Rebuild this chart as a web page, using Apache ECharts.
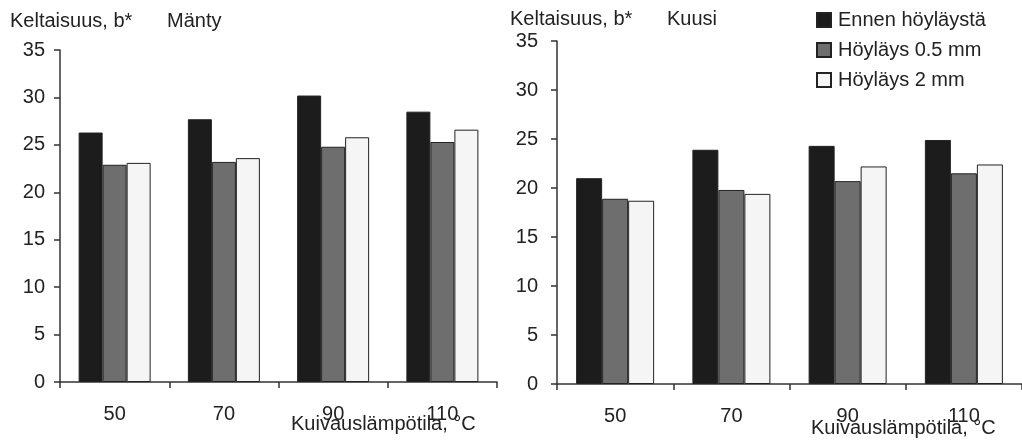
<!DOCTYPE html>
<html><head><meta charset="utf-8">
<script src="https://cdn.jsdelivr.net/npm/echarts@6/dist/echarts.min.js"></script>
<style>html,body{margin:0;padding:0;background:#fff}#c{width:1022px;height:442px}</style>
</head><body><div id="c"></div>
<script>
const categories = ['50', '70', '90', '110'];
const seriesNames = ['Ennen höyläystä', 'Höyläys 0.5 mm', 'Höyläys 2 mm'];
const mantyEnnen = [26.3, 27.7, 30.2, 28.5];
const mantyH05 = [22.9, 23.2, 24.8, 25.3];
const mantyH2 = [23.1, 23.6, 25.8, 26.6];
const kuusiEnnen = [21.0, 23.9, 24.3, 24.9];
const kuusiH05 = [18.9, 19.8, 20.7, 21.5];
const kuusiH2 = [18.7, 19.4, 22.2, 22.4];
const yTicks = [0, 5, 10, 15, 20, 25, 30, 35];

const FONT = '"Liberation Sans", Arial, sans-serif';
const TXT = '#222';
const colors = ['#1c1c1c', '#6e6e6e', '#f5f5f5'];

function yAx(gi, margin) {
  return {
    gridIndex: gi, type: 'value', min: yTicks[0], max: yTicks[yTicks.length - 1], interval: 5,
    axisLine: { show: true, lineStyle: { color: '#333', width: 1.5 } },
    axisTick: { show: true, length: 6, lineStyle: { color: '#333', width: 1.5 } },
    splitLine: { show: false },
    axisLabel: { color: TXT, fontSize: 20, fontFamily: FONT, margin: margin }
  };
}
function xAx(gi) {
  return {
    gridIndex: gi, type: 'category', data: categories, boundaryGap: true,
    axisLine: { show: true, lineStyle: { color: '#333', width: 1.5 } },
    axisTick: { show: true, length: 6, lineStyle: { color: '#333', width: 1.5 } },
    axisLabel: { color: TXT, fontSize: 20, fontFamily: FONT, margin: 22 }
  };
}
function bar(name, data, gi, idx, w) {
  return {
    name: name, type: 'bar', xAxisIndex: gi, yAxisIndex: gi, data: data,
    barWidth: w, barGap: '0%',
    itemStyle: { color: colors[idx], borderColor: '#222', borderWidth: 1 },
    emphasis: { disabled: true }
  };
}
const ts = { fontSize: 20, fontWeight: 'normal', color: TXT, fontFamily: FONT };

const chart = echarts.init(document.getElementById('c'), null, { renderer: 'canvas' });
chart.setOption({
  animation: false,
  backgroundColor: '#fff',
  title: [
    { text: 'Keltaisuus, b*', left: 10, top: 11, padding: 0, textStyle: ts },
    { text: 'Mänty', left: 167, top: 11, padding: 0, textStyle: ts },
    { text: 'Keltaisuus, b*', left: 510, top: 9, padding: 0, textStyle: ts },
    { text: 'Kuusi', left: 667, top: 9, padding: 0, textStyle: ts },
    { text: 'Kuivauslämpötila, °C', left: 291, top: 414, padding: 0, textStyle: ts },
    { text: 'Kuivauslämpötila, °C', left: 811, top: 418, padding: 0, textStyle: ts }
  ],
  legend: {
    data: seriesNames, orient: 'vertical', left: 816, top: 10, padding: 0,
    itemWidth: 14, itemHeight: 14, itemGap: 10,
    icon: 'rect',
    textStyle: { fontSize: 20, color: TXT, fontFamily: FONT, padding: [0, 0, 0, 2] },
    selectedMode: false
  },
  grid: [
    { left: 60, top: 50, width: 437, height: 332 },
    { left: 557, top: 41, width: 465, height: 343 }
  ],
  xAxis: [xAx(0), xAx(1)],
  yAxis: [yAx(0, 15), yAx(1, 19)],
  series: [
    bar(seriesNames[0], mantyEnnen, 0, 0, 24),
    bar(seriesNames[1], mantyH05, 0, 1, 24),
    bar(seriesNames[2], mantyH2, 0, 2, 24),
    bar(seriesNames[0], kuusiEnnen, 1, 0, 26),
    bar(seriesNames[1], kuusiH05, 1, 1, 26),
    bar(seriesNames[2], kuusiH2, 1, 2, 26)
  ]
});
</script></body></html>
